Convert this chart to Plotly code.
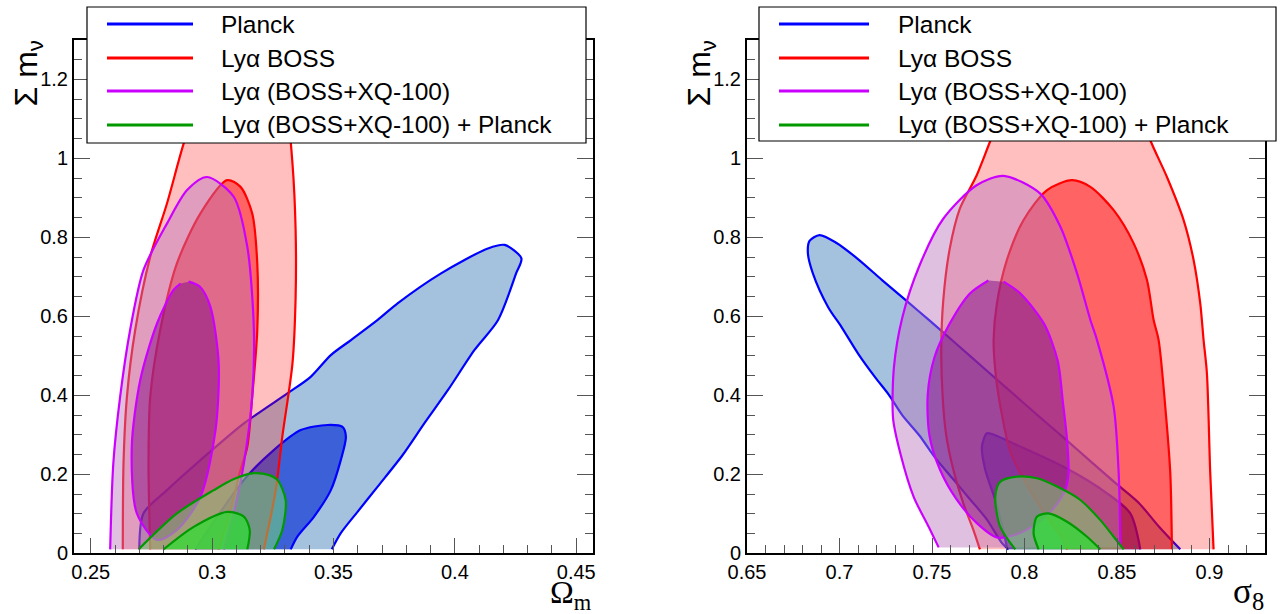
import plotly.graph_objects as go

W, H = 1283, 614

# ---------------- data: left panel (Omega_m vs sum m_nu) ----------------
om_planck_out_x = [0.270, 0.2717, 0.2814, 0.2952, 0.3131, 0.3310, 0.3406, 0.3489, 0.3572, 0.3682, 0.3764, 0.3943, 0.4136, 0.4205, 0.4274, 0.4253, 0.4178, 0.4081, 0.3971, 0.3874, 0.3785, 0.3682, 0.3599, 0.3530, 0.3493]
om_planck_out_y = [0.01, 0.101, 0.160, 0.236, 0.329, 0.405, 0.447, 0.502, 0.540, 0.591, 0.633, 0.709, 0.772, 0.781, 0.747, 0.710, 0.591, 0.515, 0.413, 0.329, 0.249, 0.169, 0.105, 0.051, 0.01]
om_planck_in_x = [0.293, 0.3131, 0.3255, 0.3365, 0.3475, 0.3537, 0.3551, 0.3530, 0.3489, 0.3420, 0.3351, 0.3324]
om_planck_in_y = [0.01, 0.186, 0.262, 0.312, 0.325, 0.320, 0.295, 0.236, 0.160, 0.093, 0.042, 0.01]
om_boss_out_x = [0.2632, 0.2635, 0.2649, 0.2683, 0.2745, 0.2814, 0.2883, 0.2952, 0.305, 0.322, 0.3303, 0.3331, 0.3344, 0.3344, 0.3331, 0.3289, 0.3262, 0.3213]
om_boss_out_y = [0.01, 0.228, 0.396, 0.565, 0.751, 0.886, 1.038, 1.16, 1.33, 1.33, 1.15, 0.987, 0.818, 0.650, 0.481, 0.295, 0.160, 0.01]
om_boss_in_x = [0.2745, 0.2738, 0.2745, 0.2786, 0.2855, 0.2952, 0.3062, 0.3117, 0.3165, 0.3186, 0.3186, 0.3165, 0.3145, 0.3117, 0.3076, 0.3026]
om_boss_in_y = [0.01, 0.228, 0.396, 0.565, 0.734, 0.861, 0.945, 0.928, 0.861, 0.734, 0.565, 0.396, 0.270, 0.211, 0.110, 0.01]
om_xq_out_x = [0.2580, 0.2593, 0.2621, 0.2662, 0.2717, 0.2814, 0.2897, 0.2979, 0.3089, 0.3145, 0.3172, 0.3165, 0.3131, 0.3089, 0.3048]
om_xq_out_y = [0.01, 0.228, 0.396, 0.565, 0.717, 0.835, 0.920, 0.953, 0.903, 0.776, 0.565, 0.396, 0.228, 0.101, 0.01]
om_xq_in_x = [0.2903, 0.2950, 0.2993, 0.3027, 0.3014, 0.2952, 0.2855, 0.2773, 0.2690, 0.2669, 0.2704, 0.2773, 0.2841, 0.2870]
om_xq_in_y = [0.688, 0.675, 0.624, 0.481, 0.312, 0.143, 0.059, 0.034, 0.101, 0.270, 0.439, 0.582, 0.667, 0.683]
om_comb_out_x = [0.2697, 0.2855, 0.3007, 0.3090, 0.3172, 0.3235, 0.3269, 0.3303, 0.3289, 0.3255]
om_comb_out_y = [0.01, 0.101, 0.160, 0.188, 0.203, 0.198, 0.186, 0.135, 0.059, 0.01]
om_comb_in_x = [0.2800, 0.2924, 0.3062, 0.3131, 0.3155, 0.3145]
om_comb_in_y = [0.01, 0.067, 0.105, 0.093, 0.059, 0.01]

# ---------------- data: right panel (sigma_8 vs sum m_nu) ----------------
s8_planck_out_x = [0.7914, 0.7878, 0.7796, 0.7705, 0.7614, 0.7522, 0.7431, 0.7339, 0.7266, 0.7194, 0.7103, 0.7011, 0.6938, 0.6856, 0.6829, 0.6838, 0.6892, 0.6984, 0.7103, 0.7230, 0.7358, 0.7486, 0.7632, 0.7778, 0.7924, 0.8070, 0.8216, 0.8362, 0.8489, 0.8617, 0.8726, 0.8842]
s8_planck_out_y = [0.01, 0.026, 0.086, 0.137, 0.188, 0.239, 0.299, 0.350, 0.402, 0.445, 0.504, 0.573, 0.624, 0.709, 0.761, 0.791, 0.806, 0.786, 0.744, 0.692, 0.641, 0.590, 0.530, 0.470, 0.410, 0.350, 0.291, 0.231, 0.179, 0.128, 0.068, 0.01]
s8_planck_in_x = [0.7907, 0.7885, 0.7842, 0.7788, 0.7770, 0.7797, 0.7842, 0.7941, 0.8211, 0.8446, 0.8572, 0.8626]
s8_planck_in_y = [0.01, 0.059, 0.135, 0.211, 0.270, 0.304, 0.299, 0.278, 0.219, 0.152, 0.101, 0.01]
s8_boss_out_x = [0.7759, 0.7723, 0.7668, 0.7614, 0.7577, 0.7559, 0.7550, 0.7561, 0.7595, 0.7650, 0.7741, 0.7814, 0.795, 0.815, 0.845, 0.856, 0.8680, 0.8770, 0.8860, 0.8914, 0.8950, 0.8968, 0.8986, 0.9004, 0.9022]
s8_boss_out_y = [0.01, 0.060, 0.128, 0.214, 0.299, 0.385, 0.513, 0.641, 0.769, 0.872, 0.957, 1.043, 1.20, 1.33, 1.33, 1.20, 1.046, 0.953, 0.844, 0.743, 0.633, 0.540, 0.456, 0.203, 0.01]
s8_boss_in_x = [0.8230, 0.8197, 0.8106, 0.8015, 0.7924, 0.7870, 0.7845, 0.7833, 0.7851, 0.7905, 0.7995, 0.8122, 0.8257, 0.8356, 0.8482, 0.8590, 0.8662, 0.8698, 0.8725, 0.8761, 0.8788, 0.8797]
s8_boss_in_y = [0.01, 0.043, 0.103, 0.171, 0.256, 0.371, 0.450, 0.540, 0.633, 0.743, 0.844, 0.920, 0.945, 0.928, 0.869, 0.785, 0.692, 0.591, 0.540, 0.371, 0.203, 0.01]
s8_xq_out_x = [0.7536, 0.7482, 0.7401, 0.7329, 0.7290, 0.7294, 0.7340, 0.7431, 0.7559, 0.7741, 0.7887, 0.8085, 0.8194, 0.8284, 0.8356, 0.8392, 0.8482, 0.8509, 0.8518]
s8_xq_out_y = [0.015, 0.067, 0.143, 0.253, 0.340, 0.470, 0.598, 0.727, 0.846, 0.932, 0.956, 0.911, 0.827, 0.709, 0.591, 0.540, 0.371, 0.203, 0.015]
s8_xq_in_x = [0.7805, 0.7705, 0.7595, 0.7513, 0.7477, 0.7486, 0.7541, 0.7632, 0.7741, 0.7851, 0.7950, 0.8050, 0.8150, 0.8220, 0.8238, 0.8230, 0.8207, 0.8180, 0.8106, 0.7978, 0.7887]
s8_xq_in_y = [0.691, 0.658, 0.581, 0.496, 0.402, 0.299, 0.214, 0.137, 0.077, 0.040, 0.047, 0.070, 0.110, 0.160, 0.203, 0.287, 0.385, 0.487, 0.581, 0.658, 0.688]
s8_comb_out_x = [0.7950, 0.7869, 0.7842, 0.7869, 0.7959, 0.8068, 0.8176, 0.8302, 0.8410, 0.8482, 0.8536]
s8_comb_out_y = [0.01, 0.067, 0.143, 0.181, 0.194, 0.190, 0.169, 0.135, 0.084, 0.042, 0.01]
s8_comb_in_x = [0.8076, 0.8049, 0.8068, 0.8130, 0.8230, 0.8338, 0.8410]
s8_comb_in_y = [0.01, 0.051, 0.093, 0.101, 0.080, 0.042, 0.01]

# ---------------- ticks / labels ----------------
om_ticks = [0.25, 0.3, 0.35, 0.4, 0.45]
om_ticktext = ["0.25", "0.3", "0.35", "0.4", "0.45"]
s8_ticks = [0.65, 0.7, 0.75, 0.8, 0.85, 0.9]
s8_ticktext = ["0.65", "0.7", "0.75", "0.8", "0.85", "0.9"]
mnu_ticks = [0, 0.2, 0.4, 0.6, 0.8, 1.0, 1.2]
mnu_ticktext = ["0", "0.2", "0.4", "0.6", "0.8", "1", "1.2"]
legend_labels = ["Planck", "Lyα BOSS", "Lyα (BOSS+XQ-100)", "Lyα (BOSS+XQ-100) + Planck"]

# ---------------- styles ----------------
BLUE, RED, MAG, GRN = "#0000ff", "#ff0000", "#cc00ff", "#009900"
styles = [
    ("planck_out", "rgb(164,194,222)", BLUE),
    ("planck_in", "rgb(60,96,216)", BLUE),
    ("boss_out", "rgba(255,0,0,0.25)", RED),
    ("boss_in", "rgba(255,0,0,0.48)", RED),
    ("xq_out", "rgba(187,115,187,0.45)", MAG),
    ("xq_in", "rgba(130,10,133,0.5)", MAG),
    ("comb_out", "rgba(120,225,110,0.5)", GRN),
    ("comb_in", "rgba(40,225,45,0.7)", GRN),
]
panels = {"om": ("x", "y"), "s8": ("x2", "y2")}
data = globals()

fig = go.Figure()
for prefix, (xa, ya) in panels.items():
    for name, fillc, linec in styles:
        xs = data[f"{prefix}_{name}_x"]
        ys = data[f"{prefix}_{name}_y"]
        fig.add_trace(go.Scatter(
            x=xs, y=ys, mode="lines", fill="toself", fillcolor=fillc,
            line=dict(color=linec, width=2.2, shape="spline", smoothing=0.8),
            xaxis=xa, yaxis=ya, hoverinfo="skip", showlegend=False))

FONT = "Liberation Sans, Arial, sans-serif"

def xax(domain, rng, tv, tt, tick0):
    return dict(domain=domain, range=rng, tickvals=tv, ticktext=tt,
                ticks="inside", ticklen=15, tickwidth=1.2, tickcolor="#555",
                minor=dict(dtick=0.01, tick0=tick0, ticks="inside", ticklen=8,
                           tickwidth=1.2, tickcolor="#555"),
                showline=True, linecolor="black", linewidth=2, mirror="ticks",
                showgrid=False, zeroline=False, automargin=False,
                tickfont=dict(family=FONT, size=20, color="black"))

def yax(anchor):
    return dict(domain=[(H - 553.3) / H, (H - 40) / H], range=[0, 1.3],
                tickvals=mnu_ticks, ticktext=mnu_ticktext, anchor=anchor,
                ticks="inside", ticklen=16, tickwidth=1.2, tickcolor="#555",
                minor=dict(dtick=0.05, tick0=0, ticks="inside", ticklen=8,
                           tickwidth=1.2, tickcolor="#555"),
                showline=True, linecolor="black", linewidth=2, mirror="ticks",
                showgrid=False, zeroline=False, automargin=False,
                tickfont=dict(family=FONT, size=20, color="black"))

fig.update_layout(
    width=W, height=H, margin=dict(l=0, r=0, t=0, b=0, pad=0, autoexpand=False),
    paper_bgcolor="white", plot_bgcolor="white", showlegend=False,
    xaxis=dict(**xax([74 / W, 593 / W], [0.2431, 0.4569], om_ticks, om_ticktext, 0.25), anchor="y"),
    yaxis=yax("x"),
    xaxis2=dict(**xax([747 / W, 1265 / W], [0.65, 0.93], s8_ticks, s8_ticktext, 0.65), anchor="y2"),
    yaxis2=yax("x2"),
)

def px(x):
    return x / W

def py(y):
    return 1 - y / H

shapes, annots = [], []
legend_boxes = [
    dict(x0=87, x1=586, y0=7, y1=143, lx0=107, lx1=193, tx=219),
    dict(x0=759, x1=1276, y0=7, y1=141, lx0=779, lx1=869, tx=896),
]
row_y = [24, 58, 91, 125]
row_col = [BLUE, RED, MAG, GRN]
for b in legend_boxes:
    shapes.append(dict(type="rect", xref="paper", yref="paper", layer="above",
                       x0=px(b["x0"]), x1=px(b["x1"]), y0=py(b["y1"]), y1=py(b["y0"]),
                       fillcolor="white", line=dict(color="black", width=1.2)))
    for ry, col, lab in zip(row_y, row_col, legend_labels):
        shapes.append(dict(type="line", xref="paper", yref="paper", layer="above",
                           x0=px(b["lx0"]), x1=px(b["lx1"]), y0=py(ry), y1=py(ry),
                           line=dict(color=col, width=3)))
        annots.append(dict(text=lab, xref="paper", yref="paper", x=px(b["tx"]), y=py(ry),
                           xanchor="left", yanchor="middle", showarrow=False,
                           font=dict(family=FONT, size=24.5, color="black")))

for axx in (74, 747):
    annots.append(dict(text="Σ m<sub>ν</sub>", textangle=-90, xref="paper", yref="paper",
                       x=px(axx - 46), y=py(38), xanchor="center", yanchor="top",
                       showarrow=False, font=dict(family=FONT, size=32, color="black")))
annots.append(dict(text="Ω<sub>m</sub>", xref="paper", yref="paper", x=px(594), y=py(594),
                   xanchor="right", yanchor="middle", showarrow=False,
                   font=dict(family="Liberation Serif, Times New Roman, serif", size=32, color="black")))
annots.append(dict(text="σ<sub>8</sub>", xref="paper", yref="paper", x=px(1266), y=py(593),
                   xanchor="right", yanchor="middle", showarrow=False,
                   font=dict(family="Liberation Serif, Times New Roman, serif", size=35, color="black")))

fig.update_layout(shapes=shapes, annotations=annots)
fig.write_html("out.html", config={"displayModeBar": False},
               post_script="document.body.style.margin='0';document.body.style.overflow='hidden';")
